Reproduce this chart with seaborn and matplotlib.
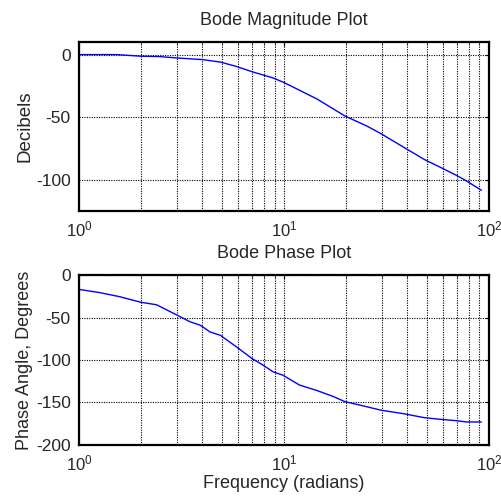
import numpy as np
import pandas as pd
import seaborn as sns
import matplotlib
matplotlib.use("Agg")
import matplotlib.pyplot as plt
from matplotlib.ticker import LogLocator, NullFormatter, FixedLocator

# ---- data ----
mag_freq = [1.0, 1.53, 2.0, 2.48, 3.0, 4.0, 4.9, 5.9, 6.96, 8.86, 9.9, 11.1, 14.5,
            19.8, 25.3, 29.6, 38.8, 48.6, 58.6, 69.4, 77.7, 92.0]
mag_db = [0.0, 0.0, -1.3, -1.6, -2.7, -4.0, -6.0, -9.6, -13.6, -18.7, -22.0, -26.0,
          -35.5, -49.0, -57.0, -63.0, -74.5, -84.0, -90.5, -96.5, -101.0, -108.5]

ph_freq = [1.0, 1.27, 1.58, 2.0, 2.39, 3.0, 3.48, 3.9, 4.36, 4.9, 5.9, 6.96, 7.9,
           8.86, 9.9, 11.9, 14.5, 17.4, 19.8, 25.3, 29.6, 38.8, 48.6, 58.6, 69.4,
           77.7, 92.0]
ph_deg = [-16.9, -20.8, -25.5, -32.0, -35.0, -47.0, -55.0, -59.0, -67.0, -71.0,
          -85.0, -98.0, -106.0, -114.0, -118.0, -129.5, -136.0, -143.0, -149.0,
          -155.0, -159.0, -163.5, -168.0, -170.0, -171.5, -173.0, -173.0]

mag_yticks = [0, -50, -100]
ph_yticks = [0, -50, -100, -150, -200]

sns.set_style("white")
plt.rcParams['font.family'] = ['Liberation Sans', 'DejaVu Sans']
plt.rcParams['mathtext.fontset'] = 'custom'
plt.rcParams['mathtext.rm'] = 'Liberation Sans'
plt.rcParams['mathtext.it'] = 'Liberation Sans'
plt.rcParams['axes.unicode_minus'] = False

fig = plt.figure(figsize=(5.01, 5.01), dpi=100)
ax1 = fig.add_axes([0.1577, 0.579, 0.818, 0.337])
ax2 = fig.add_axes([0.1577, 0.112, 0.818, 0.339])

df_mag = pd.DataFrame({"freq": mag_freq, "db": mag_db})
df_ph = pd.DataFrame({"freq": ph_freq, "deg": ph_deg})

sns.lineplot(data=df_mag, x="freq", y="db", ax=ax1, color="#0000ff", lw=1.0)
sns.lineplot(data=df_ph, x="freq", y="deg", ax=ax2, color="#0000ff", lw=1.0)

for ax, yt, ylim in [(ax1, mag_yticks, (-125, 10)), (ax2, ph_yticks, (-200, 0))]:
    ax.set_xscale("log")
    ax.set_xlim(1, 100)
    ax.set_ylim(*ylim)
    ax.yaxis.set_major_locator(FixedLocator(yt))
    ax.xaxis.set_major_locator(LogLocator(base=10, numticks=5))
    ax.xaxis.set_minor_locator(LogLocator(base=10, subs=np.arange(2, 10), numticks=20))
    ax.xaxis.set_minor_formatter(NullFormatter())
    ax.grid(True, which="both", axis="x", color="black", linestyle=(0, (1, 1.2)), lw=0.8)
    ax.grid(True, which="major", axis="y", color="black", linestyle=(0, (1, 1.2)), lw=0.8)
    for s in ax.spines.values():
        s.set_color("black")
        s.set_linewidth(1.6)
    ax.tick_params(axis="both", which="major", direction="in", length=3, labelsize=12.5,
                   pad=6, top=True, right=True, color="black")
    ax.tick_params(axis="x", which="major", labelsize=12)
    ax.tick_params(axis="x", which="minor", direction="in", length=2, top=True)
    ax.set_xlabel("")
    ax.set_ylabel("")

ax1.set_title("Bode Magnitude Plot", fontsize=13, pad=12)
ax1.set_ylabel("Decibels", fontsize=13.5, labelpad=2)
ax2.set_title("Bode Phase Plot", fontsize=13, pad=12)
ax2.set_ylabel("Phase Angle, Degrees", fontsize=13, labelpad=2)
ax2.set_xlabel("Frequency (radians)", fontsize=13, labelpad=1)

fig.savefig("out.png", dpi=100)
